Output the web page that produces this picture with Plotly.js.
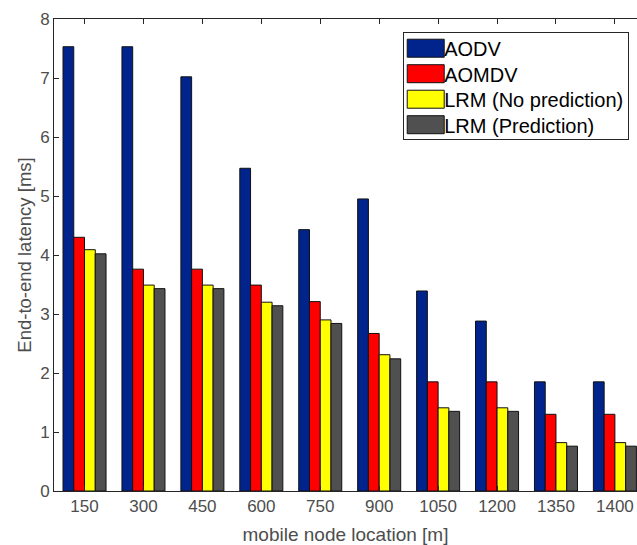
<!DOCTYPE html>
<html>
<head>
<meta charset="utf-8">
<script src="https://cdn.plot.ly/plotly-3.0.1.min.js"></script>
<style>
html,body{margin:0;padding:0;background:#fff;}
#chart{width:637px;height:545px;}
</style>
</head>
<body>
<div id="chart"></div>
<script>
const categories = ["150","300","450","600","750","900","1050","1200","1350","1400"];
const aodv      = [7.53, 7.53, 7.02, 5.47, 4.43, 4.95, 3.39, 2.88, 1.85, 1.85];
const aomdv     = [4.30, 3.76, 3.76, 3.49, 3.21, 2.67, 1.85, 1.85, 1.30, 1.30];
const lrmNoPred = [4.09, 3.49, 3.49, 3.20, 2.90, 2.31, 1.41, 1.41, 0.82, 0.82];
const lrmPred   = [4.02, 3.43, 3.43, 3.14, 2.84, 2.24, 1.35, 1.35, 0.76, 0.76];
const seriesNames = ["AODV","AOMDV","LRM (No prediction)","LRM (Prediction)"];
const seriesColors = ["#00248b","#ff0000","#ffff00","#505050"];
const seriesValues = [aodv, aomdv, lrmNoPred, lrmPred];

const traces = seriesValues.map((v,i)=>({
  type:'bar', x:categories, y:v, name:seriesNames[i],
  marker:{color:seriesColors[i], line:{color:'#111', width:1}}
}));

const axisColor = '#262626';
const labelColor = '#4d4d4d';
const layout = {
  width:637, height:545,
  margin:{l:54, r:0, t:19, b:54},
  paper_bgcolor:'#fff', plot_bgcolor:'#fff',
  barmode:'group', bargap:0.27, bargroupgap:0,
  font:{family:'Liberation Sans, Arial, sans-serif', color:axisColor},
  xaxis:{
    type:'category', range:[-0.518, 9.375],
    showline:true, linecolor:axisColor, linewidth:1, mirror:'ticks',
    ticks:'inside', ticklen:5, tickcolor:axisColor, tickwidth:1,
    showgrid:false, zeroline:false, automargin:false,
    tickfont:{size:17, color:labelColor},
    title:{text:'mobile node location [m]', font:{size:19, color:labelColor}, standoff:13}
  },
  yaxis:{
    range:[0,8], dtick:1,
    showline:true, linecolor:axisColor, linewidth:1, mirror:false,
    ticks:'inside', ticklen:5, tickcolor:axisColor, tickwidth:1,
    showgrid:false, zeroline:false, automargin:false,
    tickfont:{size:17, color:labelColor},
    title:{text:'End-to-end latency [ms]', font:{size:18.5, color:labelColor}, standoff:3}
  },
  showlegend:true,
  legend:{
    x:0.599, y:0.972, xanchor:'left', yanchor:'top',
    bgcolor:'#fff', bordercolor:axisColor, borderwidth:1,
    font:{size:20, color:'#000'}, itemwidth:30, tracegroupgap:0
  }
};
Plotly.newPlot('chart', traces, layout, {displayModeBar:false, staticPlot:true}).then(gd=>{
  gd.querySelectorAll('.legend .legendpoints path').forEach(p=>{
    p.setAttribute('d','M-17,-9H20V9H-17Z');
    p.style.strokeWidth='1px';
    p.style.stroke='#111';
  });
  // tighten legend row spacing to match reference
  const rows = gd.querySelectorAll('.legend .traces');
  const rowGap = 25.5, firstY = 16;
  rows.forEach((g,i)=>{
    const m = /translate\(([-\d.]+)[ ,]+([-\d.]+)\)/.exec(g.getAttribute('transform')||'');
    const x = m ? parseFloat(m[1]) : 1;
    g.setAttribute('transform','translate('+x+','+(firstY+i*rowGap)+')');
  });
  const bg = gd.querySelector('.legend .bg');
  if (bg) bg.setAttribute('height', String(firstY + 3*rowGap + 14));
});
</script>
</body>
</html>
